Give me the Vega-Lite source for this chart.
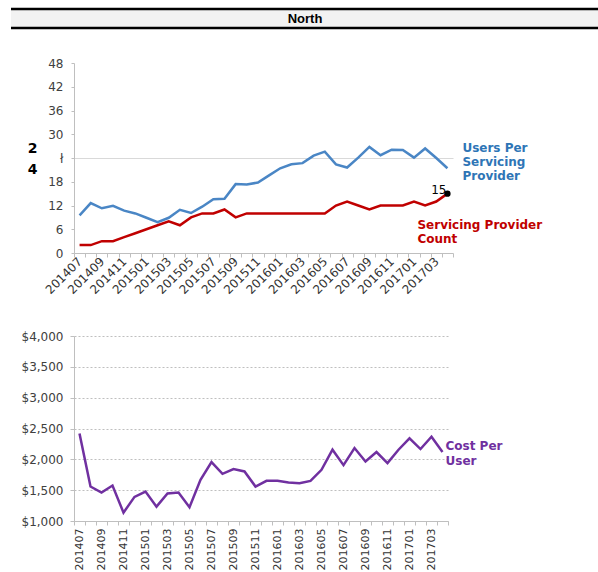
{
  "$schema": "https://vega.github.io/schema/vega-lite/v6.json",
  "padding": {"left": 9, "top": 7, "right": 0, "bottom": 0},
  "background": "white",
  "datasets": {
    "north": [
      {"month": "201407", "users": 9.5, "providers": 2, "cost": 2420},
      {"month": "201408", "users": 12.6, "providers": 2, "cost": 1559},
      {"month": "201409", "users": 11.3, "providers": 3, "cost": 1461},
      {"month": "201410", "users": 11.9, "providers": 3, "cost": 1575},
      {"month": "201411", "users": 10.7, "providers": 4, "cost": 1136},
      {"month": "201412", "users": 10.0, "providers": 5, "cost": 1391},
      {"month": "201501", "users": 8.9, "providers": 6, "cost": 1477},
      {"month": "201502", "users": 7.8, "providers": 7, "cost": 1233},
      {"month": "201503", "users": 8.9, "providers": 8, "cost": 1445},
      {"month": "201504", "users": 10.9, "providers": 7, "cost": 1461},
      {"month": "201505", "users": 10.1, "providers": 9, "cost": 1222},
      {"month": "201506", "users": 11.7, "providers": 10, "cost": 1667},
      {"month": "201507", "users": 13.6, "providers": 10, "cost": 1955},
      {"month": "201508", "users": 13.7, "providers": 11, "cost": 1765},
      {"month": "201509", "users": 17.4, "providers": 9, "cost": 1841},
      {"month": "201510", "users": 17.3, "providers": 10, "cost": 1803},
      {"month": "201511", "users": 17.8, "providers": 10, "cost": 1559},
      {"month": "201512", "users": 19.6, "providers": 10, "cost": 1651},
      {"month": "201601", "users": 21.4, "providers": 10, "cost": 1651},
      {"month": "201602", "users": 22.4, "providers": 10, "cost": 1624},
      {"month": "201603", "users": 22.7, "providers": 10, "cost": 1613},
      {"month": "201604", "users": 24.6, "providers": 10, "cost": 1651},
      {"month": "201605", "users": 25.6, "providers": 10, "cost": 1830},
      {"month": "201606", "users": 22.4, "providers": 12, "cost": 2156},
      {"month": "201607", "users": 21.6, "providers": 13, "cost": 1906},
      {"month": "201608", "users": 24.1, "providers": 12, "cost": 2183},
      {"month": "201609", "users": 26.8, "providers": 11, "cost": 1966},
      {"month": "201610", "users": 24.7, "providers": 12, "cost": 2118},
      {"month": "201611", "users": 26.1, "providers": 12, "cost": 1939},
      {"month": "201612", "users": 26.0, "providers": 12, "cost": 2156},
      {"month": "201701", "users": 24.1, "providers": 13, "cost": 2340},
      {"month": "201702", "users": 26.4, "providers": 12, "cost": 2167},
      {"month": "201703", "users": 24.0, "providers": 13, "cost": 2367},
      {"month": "201704", "users": 21.4, "providers": 15, "cost": 2118}
    ],
    "header": [{"title": "North"}]
  },
  "vconcat": [
    {
      "width": 379,
      "height": 190,
      "layer": [
        {
          "data": {"name": "north"},
          "encoding": {
            "x": {
              "field": "month", "type": "ordinal",
              "scale": {"type": "band", "paddingInner": 0, "paddingOuter": 0},
              "axis": {
                "title": null, "labelAngle": -45, "labelAlign": "right", "labelBaseline": "middle",
                "labelExpr": "toNumber(datum.value) % 2 == 1 ? datum.value : ''",
                "labelOverlap": false, "tickBand": "extent", "tickSize": 4, "labelPadding": 2,
                "labelFontSize": 12, "labelColor": "#333333"
              }
            }
          },
          "layer": [
            {
              "mark": {"type": "line", "color": "#4a86c5", "strokeWidth": 2.5},
              "encoding": {
                "y": {
                  "field": "users", "type": "quantitative",
                  "scale": {"domain": [0, 48], "nice": false},
                  "axis": {
                    "values": [0, 6, 12, 18, 24, 30, 36, 42, 48],
                    "tickCount": 20,
                    "labelExpr": "datum.value == 24 ? 'ł' : datum.label",
                    "labelOverlap": false,
                    "title": ["2", "4"],
                    "titleAngle": 0, "titleAlign": "right", "titleBaseline": "middle",
                    "titleX": -37, "titleY": 85, "titleFontSize": 14, "titleFontWeight": "bold",
                    "titleLineHeight": 21, "titleColor": "black",
                    "grid": true, "gridColor": "#d9d9d9",
                    "gridOpacity": {"condition": {"test": "datum.value === 24", "value": 1}, "value": 0},
                    "tickSize": 3, "labelPadding": 8, "labelFontSize": 12, "labelColor": "#404040"
                  }
                }
              }
            },
            {
              "mark": {"type": "line", "color": "#c00000", "strokeWidth": 2.5},
              "encoding": {"y": {"field": "providers", "type": "quantitative"}}
            },
            {
              "transform": [{"filter": "datum.month == '201704'"}],
              "mark": {"type": "point", "filled": true, "color": "black", "size": 40, "opacity": 1},
              "encoding": {"y": {"field": "providers", "type": "quantitative"}}
            },
            {
              "transform": [{"filter": "datum.month == '201704'"}],
              "mark": {"type": "text", "align": "right", "baseline": "middle", "dx": -1, "dy": -4, "fontSize": 12, "color": "black"},
              "encoding": {"y": {"field": "providers", "type": "quantitative"}, "text": {"field": "providers"}}
            },
            {
              "transform": [{"filter": "datum.month == '201704'"}],
              "mark": {"type": "text", "text": ["Users Per", "Servicing", "Provider"], "align": "left", "baseline": "middle", "dx": 15, "dy": -20, "fontSize": 12, "fontWeight": "bold", "lineHeight": 14, "color": "#2e75b6"},
              "encoding": {"y": {"field": "users", "type": "quantitative"}}
            },
            {
              "transform": [{"filter": "datum.month == '201704'"}],
              "mark": {"type": "text", "text": ["Servicing Provider", "Count"], "align": "left", "baseline": "middle", "dx": -30, "dy": 31, "fontSize": 12, "fontWeight": "bold", "lineHeight": 14, "color": "#c00000"},
              "encoding": {"y": {"field": "providers", "type": "quantitative"}}
            }
          ]
        },
        {
          "data": {"name": "header"},
          "encoding": {
            "x": {"datum": 0, "type": "quantitative", "scale": {"domain": [0, 1], "range": [-63, 525]}, "axis": null},
            "y": {"datum": 0, "type": "quantitative", "scale": {"domain": [0, 1], "range": [-35, -54]}, "axis": null}
          },
          "layer": [
            {
              "mark": {"type": "rect", "fill": "#f2f2f2", "stroke": null},
              "encoding": {"x2": {"datum": 1}, "y2": {"datum": 1}}
            },
            {
              "mark": {"type": "rule", "color": "black", "strokeWidth": 2.5},
              "encoding": {"x2": {"datum": 1}, "y": {"datum": 1, "type": "quantitative"}}
            },
            {
              "mark": {"type": "rule", "color": "black", "strokeWidth": 2.5},
              "encoding": {"x2": {"datum": 1}}
            },
            {
              "mark": {"type": "text", "font": "Liberation Sans", "fontWeight": "bold", "fontSize": 13, "color": "black", "baseline": "middle", "align": "center"},
              "encoding": {
                "x": {"datum": 0.5, "type": "quantitative"},
                "y": {"datum": 0.5, "type": "quantitative"},
                "text": {"field": "title"}
              }
            }
          ]
        }
      ],
      "resolve": {"scale": {"x": "independent", "y": "independent"}}
    },
    {
      "width": 374,
      "height": 185,
      "data": {"name": "north"},
      "encoding": {
        "x": {
          "field": "month", "type": "ordinal",
          "scale": {"type": "band", "paddingInner": 0, "paddingOuter": 0},
          "axis": {
            "title": null, "labelAngle": -90, "labelAlign": "right", "labelBaseline": "middle",
            "labelExpr": "toNumber(datum.value) % 2 == 1 ? datum.value : ''",
            "labelOverlap": false, "tickBand": "extent", "tickSize": 4, "labelPadding": 3,
            "labelFontSize": 11, "labelColor": "#333333"
          }
        }
      },
      "layer": [
        {
          "mark": {"type": "line", "color": "#7030a0", "strokeWidth": 2.5},
          "encoding": {
            "y": {
              "field": "cost", "type": "quantitative",
              "scale": {"domain": [1000, 4000], "nice": false, "zero": false},
              "axis": {
                "values": [1000, 1500, 2000, 2500, 3000, 3500, 4000],
                "tickCount": 20,
                "format": "$,.0f", "labelOverlap": false,
                "title": null, "grid": true, "gridColor": "#bfbfbf", "gridDash": [2, 2],
                "tickSize": 4, "labelPadding": 7, "labelFontSize": 12, "labelColor": "#404040"
              }
            }
          }
        },
        {
          "transform": [{"filter": "datum.month == '201704'"}],
          "mark": {"type": "text", "text": ["Cost Per", "User"], "align": "left", "baseline": "middle", "dx": 3, "dy": -6, "fontSize": 12, "fontWeight": "bold", "lineHeight": 15, "color": "#7030a0"},
          "encoding": {"y": {"field": "cost", "type": "quantitative"}}
        }
      ]
    }
  ],
  "spacing": 34,
  "config": {
    "font": "DejaVu Sans",
    "view": {"stroke": null},
    "axis": {"domainColor": "#bfbfbf", "tickColor": "#bfbfbf", "labelFont": "DejaVu Sans", "titleFont": "DejaVu Sans"}
  }
}
